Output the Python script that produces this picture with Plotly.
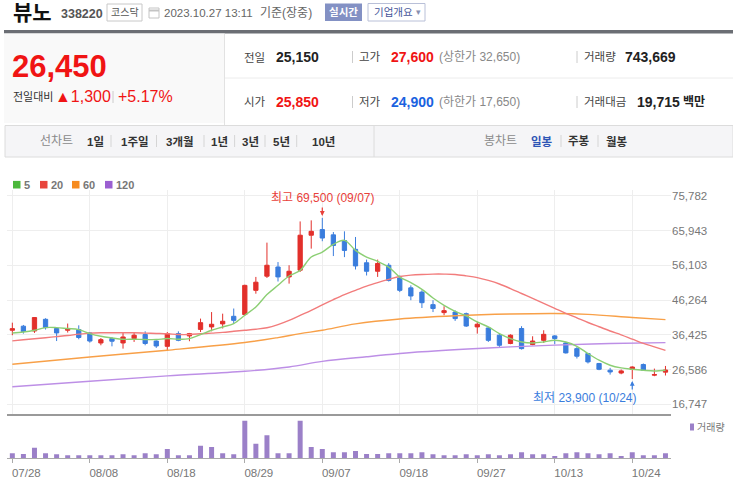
import plotly.graph_objects as go

W, H = 733, 483
FONT = "Liberation Sans, Noto Sans CJK KR, sans-serif"

# ---------------- data ----------------
dates = ["07/28", "07/31", "08/01", "08/02", "08/03", "08/04", "08/07", "08/08", "08/09", "08/10",
         "08/11", "08/14", "08/16", "08/17", "08/18", "08/21", "08/22", "08/23", "08/24", "08/25",
         "08/28", "08/29", "08/30", "08/31", "09/01", "09/04", "09/05", "09/06", "09/07", "09/08",
         "09/11", "09/12", "09/13", "09/14", "09/15", "09/18", "09/19", "09/20", "09/21", "09/22",
         "09/25", "09/26", "09/27", "10/04", "10/05", "10/06", "10/10", "10/11", "10/12", "10/13",
         "10/16", "10/17", "10/18", "10/19", "10/20", "10/23", "10/24", "10/25", "10/26", "10/27"]

opens = [37700, 38850, 37500, 40800, 38200, 37700, 37900, 36950, 34100, 35350,
         34100, 35350, 36500, 34650, 33150, 36750, 36100, 37950, 38650, 39500,
         41650, 42150, 49000, 53000, 55600, 52800, 54700, 64600, 66200, 64700,
         63100, 60600, 56800, 54400, 56100, 52500, 49700, 48500, 44950, 42700,
         42850, 42400, 38650, 38350, 36300, 33950, 38200, 33650, 34850, 36100,
         34100, 32500, 31100, 28300, 26400, 25600, 26650, 28000, 25000, 25850]
highs = [39850, 39200, 41450, 41100, 38350, 39600, 39100, 37200, 35500, 35800,
         36950, 36950, 37400, 34850, 37200, 37400, 36950, 41000, 42850, 42400,
         43850, 50600, 52800, 62500, 57000, 56100, 68500, 68800, 69500, 65500,
         65700, 64100, 57700, 57700, 56700, 53200, 50400, 49000, 46200, 44500,
         43350, 42700, 40050, 38650, 36750, 36550, 38850, 36000, 37700, 36300,
         34400, 32950, 31300, 28450, 27050, 26600, 27500, 28300, 26850, 27600]
lows = [36300, 36750, 36950, 37900, 34650, 37050, 35150, 34200, 33450, 33150,
        32500, 34400, 33450, 32700, 32050, 34600, 34600, 37200, 37400, 38200,
        39600, 41750, 48050, 52500, 51500, 50900, 54200, 60800, 62900, 58700,
        58400, 54900, 53200, 52800, 51500, 48500, 46200, 44000, 42850, 41950,
        40350, 38650, 36750, 34400, 33000, 33750, 32250, 33450, 34100, 33750,
        31100, 29700, 28300, 26400, 25150, 25250, 23900, 26200, 24700, 24900]
closes = [38150, 37350, 41300, 38450, 36950, 38200, 35650, 34650, 35050, 34600,
          35800, 36300, 33950, 33250, 36750, 34850, 36750, 39850, 39400, 40250,
          40500, 50400, 51300, 56100, 52800, 54400, 64600, 65700, 63800, 61700,
          60300, 55900, 54400, 56600, 51800, 49000, 47400, 45500, 43850, 43250,
          41000, 38900, 39400, 34850, 33450, 36300, 32500, 34650, 36550, 35350,
          31300, 30350, 28750, 26650, 25900, 26200, 27300, 26400, 25150, 26450]
volumes = [744000, 645000, 1587000, 744000, 595000, 446000, 446000, 446000, 446000, 446000,
           595000, 446000, 744000, 595000, 1388000, 446000, 446000, 1884000, 1686000, 744000,
           595000, 5602000, 2181000, 3421000, 744000, 744000, 5602000, 1686000, 1388000, 892000,
           892000, 1091000, 645000, 645000, 744000, 744000, 744000, 892000, 595000, 446000,
           446000, 595000, 446000, 595000, 446000, 595000, 892000, 595000, 595000, 347000,
           744000, 892000, 744000, 595000, 744000, 347000, 892000, 446000, 446000, 743669]

ma5 = [36930, 37220, 37700, 38460, 38460, 38180, 37890, 36760, 36000, 35520,
       35150, 35150, 35070, 35070, 35350, 35150, 35350, 36480, 37700, 38630,
       39590, 41940, 44280, 47790, 50420, 53050, 54660, 58420, 59830, 62000,
       63140, 60310, 58420, 57200, 55590, 52760, 51180, 49290, 46830, 44760,
       43070, 41740, 40040, 38630, 36760, 35350, 34390, 34110, 34390, 34870,
       34390, 33170, 31110, 29220, 27800, 27040, 26670, 26390, 26190, 26390]
ma20 = [34700, 35000, 35300, 35600, 35900, 36200, 36600, 36900, 37000, 37000,
        37000, 37000, 36900, 36800, 36700, 36500, 36500, 36700, 36900, 37100,
        37400, 37700, 38000, 38400, 39300, 40500, 41900, 43300, 44900, 46400,
        47800, 49000, 50200, 51200, 52100, 52900, 53300, 53500, 53600, 53600,
        53500, 53100, 52600, 51800, 50800, 49500, 48100, 46700, 45300, 43900,
        42500, 41200, 39900, 38700, 37500, 36400, 35200, 34000, 33000, 32000]
ma60_dates = ["07/28", "08/08", "08/18", "08/29", "09/01", "09/05", "09/07", "09/12",
              "09/18", "09/25", "10/06", "10/13", "10/18", "10/24", "10/27"]
ma60_vals = [28080, 30150, 32040, 34220, 35630, 36760, 37700, 39500,
             40900, 41800, 42300, 42450, 42200, 41300, 40700]
ma120_dates = ["07/28", "08/08", "08/18", "08/29", "09/04", "09/07", "09/13", "09/20",
               "10/04", "10/13", "10/20", "10/27"]
ma120_vals = [21700, 23280, 24800, 26100, 27320, 28900, 30200, 31600,
              32700, 33500, 33940, 34200]

price_ticks = [16747, 26586, 36425, 46264, 56103, 65943, 75782]
date_ticks = ["07/28", "08/08", "08/18", "08/29", "09/07", "09/18", "09/27", "10/13", "10/24"]

stock_name = "뷰노"
stock_code = "338220"
market = "코스닥"
timestamp = "2023.10.27 13:11"
current_price = 26450
change = 1300
change_pct = 5.17
prev_close = 25150
open_price = 25850
high_price = 27600
low_price = 24900
upper_limit = 32650
lower_limit = 17650
volume_today = 743669
trade_value = 19715

# ---------------- helpers (pixel -> paper) ----------------
def px(x):
    return x / W


def py(y):
    return 1 - y / H


annotations = []
shapes = []


def text(x, y, s, size, color, bold=False, anchor="left"):
    annotations.append(dict(
        x=px(x), y=py(y), xref="paper", yref="paper",
        text=f"<b>{s}</b>" if bold else s, showarrow=False,
        xanchor=anchor, yanchor="middle", borderpad=0,
        font=dict(size=size, color=color, family=FONT)))


def rect(x0, y0, x1, y1, fill, line=None, lw=1):
    shapes.append(dict(type="rect", xref="paper", yref="paper",
                       x0=px(x0), x1=px(x1), y0=py(y1), y1=py(y0),
                       fillcolor=fill, line=dict(color=line or fill, width=lw if line else 0),
                       layer="below"))


def vline(x, y0, y1, color, w=1):
    shapes.append(dict(type="line", xref="paper", yref="paper",
                       x0=px(x), x1=px(x), y0=py(y0), y1=py(y1),
                       line=dict(color=color, width=w)))


def hline(x0, x1, y, color, w=1):
    shapes.append(dict(type="line", xref="paper", yref="paper",
                       x0=px(x0), x1=px(x1), y0=py(y), y1=py(y),
                       line=dict(color=color, width=w)))


RED = "#f01414"
BLUE = "#1a62e0"

# ---------------- header ----------------
text(12, 13, stock_name, 21, "#111", bold=True)
text(60, 14, stock_code, 12.5, "#555", bold=True)
rect(107, 4, 142, 21, "#ffffff", "#c8c8c8")
text(124.5, 12.5, market, 10, "#555", anchor="center")
rect(149, 8, 159, 18, "#ffffff", "#c4c4c4")
hline(149, 159, 10.5, "#c4c4c4", 2)
text(163, 13, timestamp, 11.5, "#666")
text(259, 13, "기준(장중)", 12, "#666")
rect(325, 3.5, 362, 21, "#8391c4")
text(343.5, 12.5, "실시간", 10.5, "#ffffff", bold=True, anchor="center")
rect(368, 3.5, 425, 21, "#ffffff", "#b9c0d8")
text(373, 12.5, "기업개요", 10.5, "#46569a")
text(415, 12.5, "▾", 9, "#8890b0")

rect(4, 30, 733, 33.5, "#6b6e74")
rect(4, 33.5, 224, 123, "#f9f9f9")
vline(224.5, 33.5, 125, "#e2e2e2")
hline(225, 733, 78, "#ececec")

text(11, 67, f"{current_price:,}", 31, RED, bold=True)
text(12, 97, "전일대비", 11, "#333")
text(54, 97, f"▲{change:,}", 16, RED)
vline(113, 91, 103, "#cccccc")
text(117, 97, f"+{change_pct:.2f}%", 16, RED)

r1, r2 = 57, 102
text(243, r1, "전일", 11.5, "#444")
text(275, r1, f"{prev_close:,}", 14, "#222", bold=True)
vline(352.5, r1 - 6, r1 + 6, "#cccccc")
text(358, r1, "고가", 11.5, "#444")
text(390, r1, f"{high_price:,}", 14, RED, bold=True)
text(438, r1, f"(상한가 {upper_limit:,})", 12, "#888")
vline(577, r1 - 6, r1 + 6, "#cccccc")
text(583, r1, "거래량", 11.5, "#444")
text(624, r1, f"{volume_today:,}", 14, "#222", bold=True)

text(243, r2, "시가", 11.5, "#444")
text(275, r2, f"{open_price:,}", 14, RED, bold=True)
vline(352.5, r2 - 6, r2 + 6, "#cccccc")
text(358, r2, "저가", 11.5, "#444")
text(390, r2, f"{low_price:,}", 14, BLUE, bold=True)
text(438, r2, f"(하한가 {lower_limit:,})", 12, "#888")
vline(577, r2 - 6, r2 + 6, "#cccccc")
text(583, r2, "거래대금", 11.5, "#444")
text(636, r2, f"{trade_value:,}", 14, "#222", bold=True)
text(682, r2, "백만", 12, "#222", bold=True)

# tab bar
rect(5, 125.5, 733, 157, "#f5f5f7", "#dcdcdc")
vline(374, 125.5, 157, "#dcdcdc")
ty = 141
text(57, ty, "선차트", 12, "#8a8a8a", anchor="center")
for lbl, cx in [("1일", 95), ("1주일", 135), ("3개월", 180), ("1년", 219.6),
                ("3년", 250), ("5년", 281), ("10년", 323.6)]:
    text(cx, ty, lbl, 11.5, "#333", bold=True, anchor="center")
for sx in [111, 156.5, 204, 234.6, 265, 296.7]:
    vline(sx, ty - 6, ty + 6, "#d5d5d5")
text(500, ty, "봉차트", 12, "#8a8a8a", anchor="center")
text(542, ty, "일봉", 11.5, "#2e55b5", bold=True, anchor="center")
vline(561, ty - 6, ty + 6, "#d5d5d5")
text(579.4, ty, "주봉", 11.5, "#333", bold=True, anchor="center")
vline(598, ty - 6, ty + 6, "#d5d5d5")
text(617, ty, "월봉", 11.5, "#333", bold=True, anchor="center")

# MA legend
ly = 184.7
for (x0, col, lbl) in [(13, "#4cb83c", "5"), (40, "#e8453c", "20"),
                       (72, "#f68b1f", "60"), (105, "#9b5fd1", "120")]:
    rect(x0, ly - 3.8, x0 + 7.5, ly + 3.8, col)
    text(x0 + 9.5, ly, lbl, 11, "#777", bold=True)

# volume legend
rect(690, 423.5, 694, 430.5, "#9b80c8")
text(696, 427, "거래량", 10, "#777")

# ---------------- chart ----------------
X_DOM = [6.8 / W, 671 / W]
MAIN_DOM = [py(414), py(190)]
VOL_DOM = [py(458.3), py(416)]
Y_RANGE = [14002, 77395]
V_RANGE = [0, 6290000]

fig = go.Figure()
fig.add_trace(go.Candlestick(
    x=dates, open=opens, high=highs, low=lows, close=closes,
    increasing=dict(line=dict(color="#e2302b", width=1), fillcolor="#e2302b"),
    decreasing=dict(line=dict(color="#3a7ddd", width=1), fillcolor="#3a7ddd"),
    whiskerwidth=0, xaxis="x", yaxis="y", hoverinfo="skip"))
fig.add_trace(go.Scatter(x=ma120_dates, y=ma120_vals, mode="lines", line=dict(color="#bd8fe6", width=1.4, shape="spline"),
                         xaxis="x", yaxis="y"))
fig.add_trace(go.Scatter(x=ma60_dates, y=ma60_vals, mode="lines", line=dict(color="#f8a048", width=1.4, shape="spline"),
                         xaxis="x", yaxis="y"))
fig.add_trace(go.Scatter(x=dates, y=ma20, mode="lines", line=dict(color="#f27c7c", width=1.4, shape="spline"),
                         xaxis="x", yaxis="y"))
fig.add_trace(go.Scatter(x=dates, y=ma5, mode="lines", line=dict(color="#8ccf74", width=1.4, shape="spline"),
                         xaxis="x", yaxis="y"))
fig.add_trace(go.Bar(x=dates, y=volumes, marker=dict(color="#9b80c8", line=dict(width=0)),
                     xaxis="x2", yaxis="y2"))

imax = highs.index(max(highs))
imin = lows.index(min(lows))
annotations.append(dict(x=dates[imax], y=highs[imax], xref="x", yref="y", showarrow=False,
                        text=f"최고 {highs[imax]:,} ({dates[imax]})", yshift=20, xanchor="center",
                        yanchor="middle", font=dict(size=12, color="#e8403a", family=FONT)))
annotations.append(dict(x=dates[imax], y=highs[imax], xref="x", yref="y", showarrow=True, text="",
                        ax=0, ay=-12, arrowhead=2, arrowsize=0.8, arrowwidth=1.2, arrowcolor="#e8403a",
                        standoff=2))
annotations.append(dict(x=dates[imin], y=lows[imin], xref="x", yref="y", showarrow=False,
                        text=f"최저 {lows[imin]:,} ({dates[imin]})", yshift=-18.5, xshift=6, xanchor="right",
                        yanchor="middle", font=dict(size=12, color="#3a7ddd", family=FONT)))
annotations.append(dict(x=dates[imin], y=lows[imin], xref="x", yref="y", showarrow=True, text="",
                        ax=0, ay=12, arrowhead=2, arrowsize=0.8, arrowwidth=1.2, arrowcolor="#3a7ddd",
                        standoff=2))

fig.update_layout(
    width=W, height=H, autosize=False,
    margin=dict(l=0, r=0, t=0, b=0),
    paper_bgcolor="white", plot_bgcolor="white",
    font=dict(family=FONT),
    showlegend=False,
    boxgap=0.45, bargap=0.55,
    annotations=annotations, shapes=shapes,
    xaxis=dict(domain=X_DOM, type="category", categoryorder="array", categoryarray=dates,
               range=[-0.5, len(dates) - 0.5], anchor="y",
               tickvals=date_ticks, showticklabels=False, showgrid=True, gridcolor="#eeeeee",
               gridwidth=1, showline=True, linecolor="#9a9a9a", linewidth=2, ticks="",
               rangeslider=dict(visible=False), fixedrange=True),
    yaxis=dict(domain=MAIN_DOM, range=Y_RANGE, side="right", anchor="x",
               tickvals=price_ticks, ticktext=[f"{v:,}" for v in price_ticks],
               tickfont=dict(size=11.5, color="#777"), showgrid=True, gridcolor="#eeeeee",
               zeroline=False, showline=False, ticks=""),
    xaxis2=dict(domain=X_DOM, type="category", categoryorder="array", categoryarray=dates,
                range=[-0.5, len(dates) - 0.5], anchor="y2", matches="x",
                tickvals=date_ticks, showgrid=False, showline=True, linecolor="#aaaaaa",
                linewidth=1, ticks="outside", ticklen=4, tickcolor="#aaaaaa",
                tickfont=dict(size=11.5, color="#777"), ticklabelshift=14),
    yaxis2=dict(domain=VOL_DOM, range=V_RANGE, anchor="x2", showticklabels=False,
                showgrid=False, zeroline=False, showline=False),
)

fig.write_html("out.html",
               config={"displayModeBar": False},
               post_script="document.body.style.margin='0';document.body.style.padding='0';"
                           "document.body.style.overflow='hidden';")
